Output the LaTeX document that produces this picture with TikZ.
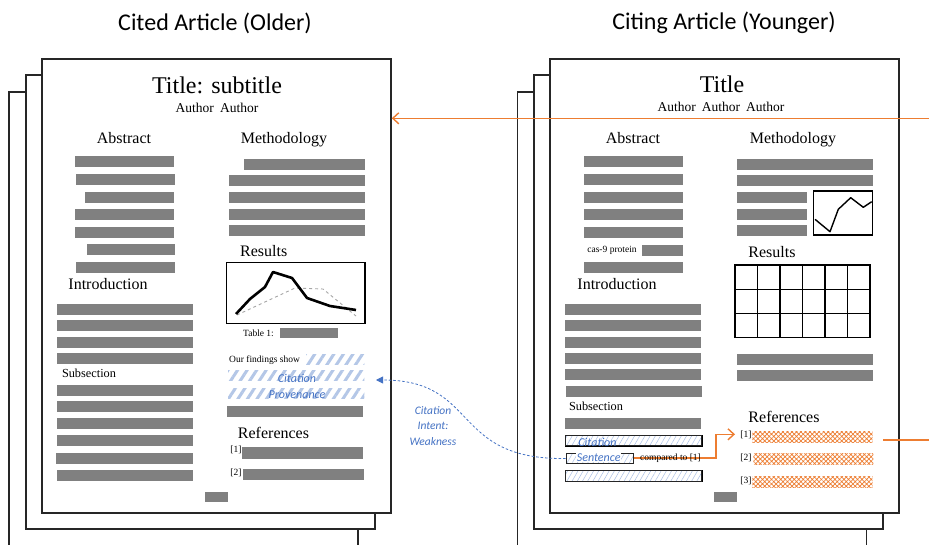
\documentclass[tikz,border=0pt]{standalone}
\usepackage{fontspec}
\setmainfont{Liberation Serif}
\newfontfamily\calfont{Carlito}
\usetikzlibrary{arrows.meta,patterns.meta}
\definecolor{barc}{HTML}{808080}
\definecolor{orng}{HTML}{ED7D31}
\definecolor{blu}{HTML}{4472C4}
\definecolor{lblu}{HTML}{B4C7E7}
\definecolor{hblu}{HTML}{A9BFE6}
\newcommand\gbar[3]{\fill[barc] (#1,#2) rectangle (#3,#2+10.7);}
\begin{document}
\begin{tikzpicture}[x=1pt,y=-1pt,
  page/.style={draw=black!85, line width=1.5pt, fill=white, inner sep=0pt, minimum width=349pt, minimum height=454pt},
  sec/.style={font=\fontsize{16}{18}\selectfont, inner sep=0pt},
  small/.style={font=\fontsize{9.5}{11}\selectfont, inner sep=0pt},
  ann/.style={font=\calfont\itshape\fontsize{12}{14}\selectfont, text=blu, inner sep=0pt},
  head/.style={font=\calfont\fontsize{24}{28}\selectfont, inner sep=0pt},
  wide/.style={pattern={Lines[angle=57,distance=8pt,line width=3pt]}, pattern color=lblu},
  fine/.style={pattern={Lines[angle=60,distance=4.5pt,line width=0.5pt]}, pattern color=hblu},
  xhatch/.style={pattern={Hatch[angle=45,distance=3.2pt,line width=0.7pt]}, pattern color=orng},
  ochart/.style={draw=black, line width=1.3pt}
]
\useasboundingbox[fill=white] (0,0) rectangle (929,545);

% headers
\node[head] (hleft) at (215,23) {Cited Article (Older)};
\node[head] (hright) at (724,23) {Citing Article (Younger)};

% ===== left stack =====
\node[page] (lp3) at (183.5,319) {};
\node[page] (lp2) at (200.5,302) {};
\node[page] (citedpage) at (216.5,286) {};

\node[inner sep=0pt, font=\fontsize{24}{28}\selectfont] (ltitle) at (217,85) {Title: subtitle};
\node[inner sep=0pt, font=\fontsize{13.5}{16}\selectfont] (lauth) at (217,108) {Author\hspace{0.45em}Author};
\node[sec] (labs) at (124,138) {Abstract};
\node[sec] (lmeth) at (284,140) {Methodology};
\node[sec, anchor=west] (lres) at (240,251.5) {Results};
\node[sec] (lintro) at (108,284) {Introduction};
\node[inner sep=0pt, font=\fontsize{12.3}{14}\selectfont] (lsub) at (89,373.5) {Subsection};
\node[sec] (lrefs) at (273.5,433) {References};

\gbar{75}{156}{174}\gbar{76}{174}{175}\gbar{85}{192}{174}\gbar{75}{209}{174}
\gbar{75}{227}{174}\gbar{87}{244}{175}\gbar{76}{262}{175}
\gbar{244}{159}{365}\gbar{229}{175}{365}\gbar{229}{192}{365}\gbar{229}{209}{365}\gbar{229}{225}{365}
\gbar{57}{304}{192.7}\gbar{57}{320}{192.7}\gbar{57}{337}{192.7}\gbar{57}{353}{192.7}
\gbar{57}{385}{192.7}\gbar{57}{401}{192.7}\gbar{57}{418}{192.7}\gbar{57}{435}{192.7}
\gbar{56}{453}{192.7}\gbar{57}{470}{192.7}

% results chart
\draw[ochart] (226.7,262.3) rectangle (365,323.3);
\draw[gray!70, dashed, line width=0.9pt] (237,315) -- (295,288) -- (323,289) -- (356,316);
\draw[black, line width=2.6pt, line join=round] (236,314) -- (250,299) -- (265,287) -- (273,272) -- (292,278) -- (307,298) -- (330,306) -- (356,310);
\node[small] (ltab) at (258.5,333) {Table 1:};
\fill[barc] (280,328.3) rectangle (337.7,337.7);

% citation provenance
\node[small, anchor=west] (lfind) at (229,360.5) {Our findings show};
\fill[wide] (306,354) rectangle (364.3,364);
\fill[wide] (228,370.7) rectangle (364.3,380.7);
\fill[wide] (228,388.3) rectangle (364.3,398.7);
\node[ann] (prov1) at (297,378.5) {Citation};
\node[ann] (prov2) at (297,394.5) {Provenance};
\coordinate (provtip) at (376,380);
\fill[barc] (227,406) rectangle (362.7,416.7);

\node[small] (lr1) at (236,450) {[1]};
\node[small] (lr2) at (236,473) {[2]};
\fill[barc] (242,447) rectangle (362.7,458.7);
\fill[barc] (243,469) rectangle (363.7,480.3);
\fill[barc] (205,491.7) rectangle (227.7,502.3);

% ===== right stack =====
\node[page] (rp3) at (692,319) {};
\node[page] (rp2) at (708.5,302) {};
\node[page] (citingpage) at (724.5,286) {};

\node[inner sep=0pt, font=\fontsize{24}{28}\selectfont] (rtitle) at (722,84.5) {Title};
\node[inner sep=0pt, font=\fontsize{13.5}{16}\selectfont] (rauth) at (721,107) {Author\hspace{0.45em}Author\hspace{0.45em}Author};
\node[sec] (rabs) at (633,138) {Abstract};
\node[sec] (rmeth) at (793,140) {Methodology};
\node[sec] (rres) at (772,252) {Results};
\node[sec] (rintro) at (617,284) {Introduction};
\node[inner sep=0pt, font=\fontsize{12.3}{14}\selectfont] (rsub) at (596,406.5) {Subsection};
\node[sec] (rrefs) at (784,417) {References};

\gbar{584}{156}{683}\gbar{584}{174}{683}\gbar{584}{192}{683}\gbar{584}{209}{683}
\gbar{584}{227}{683}\gbar{642}{245}{683}\gbar{584}{262}{683}
\node[small] (cas) at (612,250) {cas-9 protein};
\gbar{737}{159}{872.7}\gbar{737}{175}{872.7}\gbar{737}{192}{806.7}\gbar{737}{209}{806.7}\gbar{737}{225}{806.7}
\draw[ochart] (813.3,191) rectangle (872.7,235);
\draw[black, line width=1.4pt, line join=round] (815,219.3) -- (830,231.7) -- (838.3,209.3) -- (850.7,197.7) -- (863.3,207.3) -- (871.7,201.7);

% results grid
\draw[ochart] (735,265) rectangle (870,337.7);
\foreach \i in {1,...,5} \draw[ochart] (735+22.5*\i,265) -- (735+22.5*\i,337.7);
\draw[ochart] (735,289.3) -- (870,289.3);
\draw[ochart] (735,313.5) -- (870,313.5);
\gbar{737}{354}{872.7}\gbar{737}{370}{872.7}

\gbar{565}{304}{701}\gbar{565}{320}{701}\gbar{565}{337}{701}\gbar{565}{353}{701}
\gbar{565}{369}{701}\gbar{566}{386}{702}\gbar{565}{418}{701}

% citation sentence
\draw[fine] (565,435.3) rectangle (701.7,445.7);
\draw[black!85, line width=1pt] (565,435.3) rectangle (701.7,445.7);
\node[ann] (cit1) at (597.5,442) {Citation};
\node[draw=black!85, line width=1pt, fine, minimum width=67.7pt, minimum height=10.4pt, inner sep=0pt] (sent) at (599.85,458.5) {};
\node[ann, fill=white, inner sep=0.6pt] (cit2) at (598.7,457.8) {Sentence};
\draw[fine] (565,470.3) rectangle (701.7,481);
\draw[black!85, line width=1pt] (565,470.3) rectangle (701.7,481);
\coordinate (elbow) at (716,457.8);
\draw[orng, line width=1.5pt, -{Straight Barb[length=6pt,width=11pt,line width=1.4pt]}] (sent.east |- elbow) -- (elbow) |- (735,434.3) coordinate (r1tip);
\node[small] (cmp) at (670.5,458.3) {compared to [1]};

% references
\node[small] (rr1) at (746,435.3) {[1]};
\node[small] (rr2) at (746,457.7) {[2]};
\node[small] (rr3) at (746,481) {[3]};
\fill[xhatch] (752.3,431) rectangle (872.7,442.7);
\fill[xhatch] (753.3,453.3) rectangle (873.3,464.7);
\fill[xhatch] (752.3,476) rectangle (872.7,487.3);
\fill[barc] (714,491.7) rectangle (737,502.3);

% ===== connectors =====
\coordinate (topstart) at (929,118.3);
\draw[orng, line width=1.5pt, -{Straight Barb[length=6pt,width=11pt,line width=1.4pt]}] (topstart) -- (topstart -| citedpage.east);
\coordinate (refstart) at (883.3,440);
\coordinate (refend) at (929,440);
\draw[orng, line width=1.5pt] (refstart) -- (refend);

\draw[blu, dashed, dash pattern=on 2.5pt off 2pt, line width=0.8pt, -{Triangle[length=7pt,width=7pt]}] (sent.west) .. controls (450,460) and (480,380) .. (provtip);
\node[ann, align=center, font=\calfont\itshape\fontsize{11.5}{15.3}\selectfont] (intent) at (433,426) {Citation\\Intent:\\Weakness};
\end{tikzpicture}
\end{document}
